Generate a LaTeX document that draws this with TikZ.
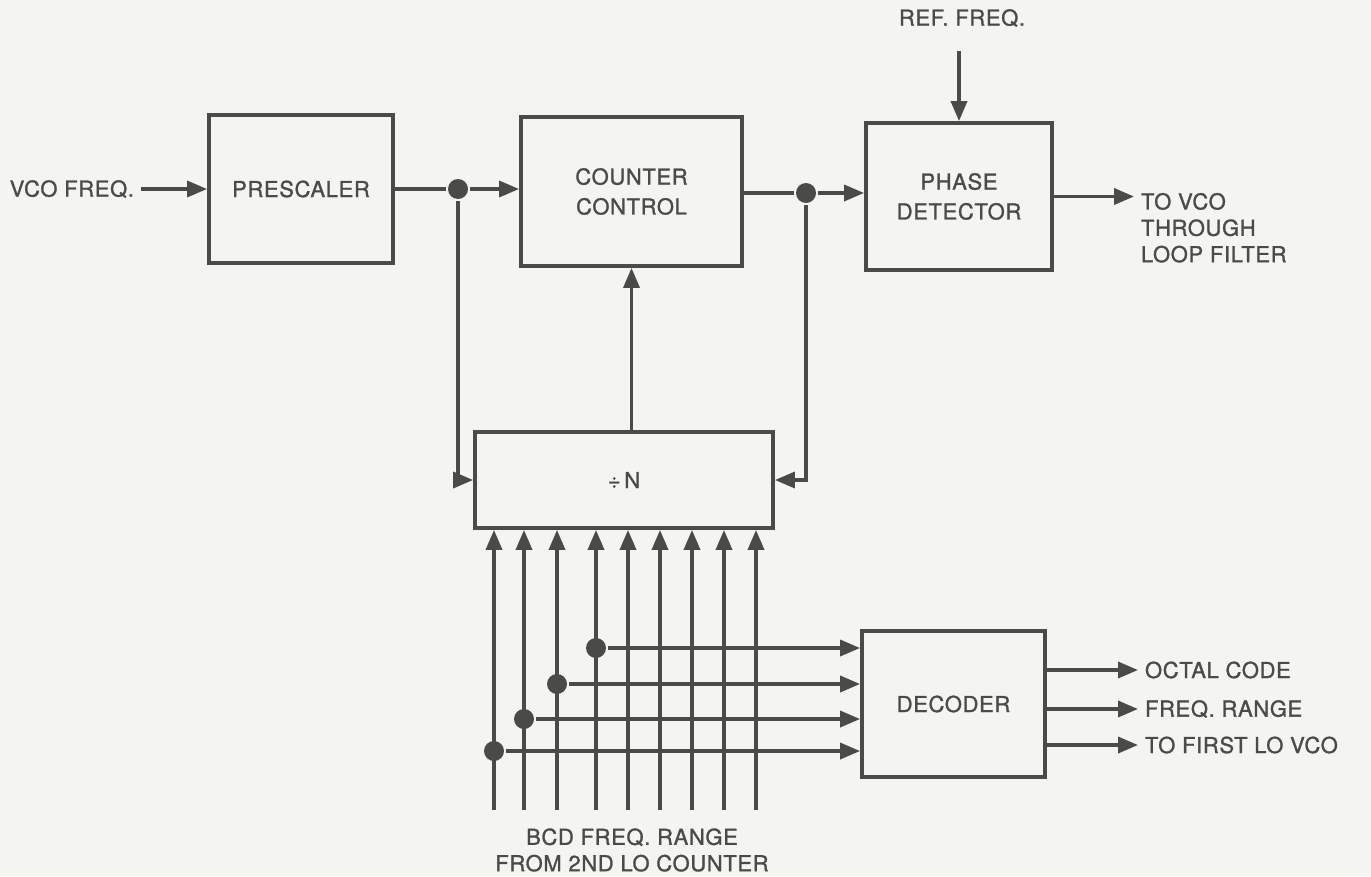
\documentclass[tikz,border=0pt]{standalone}
\usepackage{fontspec}
\setmainfont{TeX Gyre Heros}[LetterSpace=3,FakeBold=1.2]
\usepackage{xcolor}
\usetikzlibrary{positioning,arrows.meta}
\definecolor{ink}{HTML}{4A4A48}
\definecolor{paper}{HTML}{F4F4F1}

\begin{document}
\begin{tikzpicture}[
  x=0.02cm,y=-0.02cm,
  color=ink,
  font=\fontsize{12.5}{15}\selectfont,
  every node/.style={align=center},
  block/.style={rectangle,draw,line width=2.2pt,inner sep=2pt,font=\fontsize{12.5}{17}\selectfont},
  dot/.style={circle,fill,inner sep=0pt,minimum size=4mm},
  tag/.style={inner sep=3pt},
  link/.style={-{Triangle[length=4mm,width=3.2mm]}},
  line width=2pt
]
\fill[paper] (0,0) rectangle (1371,876);
\useasboundingbox (0,0) rectangle (1371,876);

\node[block,minimum width=3.68cm,minimum height=2.96cm] (pre) at (301,189) {PRESCALER};
\node[block,minimum width=4.42cm,minimum height=2.98cm] (cc) at (631.5,191.5) {COUNTER\\CONTROL};
\node[block,minimum width=3.72cm,minimum height=2.94cm] (pd) at (959,196.5) {PHASE\\DETECTOR};
\node[block,minimum width=5.96cm,minimum height=1.92cm] (divn) at (624,480) {÷\,N};
\node[block,minimum width=3.66cm,minimum height=2.92cm] (dec) at (953.5,704) {DECODER};

\node[tag,anchor=east] (vco) at (141,189) {VCO FREQ.};
\node[tag] (ref) at (962,18) {REF. FREQ.};
\node[tag,anchor=north west,align=left] (tovco) at (1134,186) {TO VCO\\THROUGH\\LOOP FILTER};
\node[tag] (bcd) at (632,850) {BCD FREQ. RANGE\\FROM 2ND LO COUNTER};

\node[dot] (j1) at (458,189) {};
\node[dot] (j2) at (806,193) {};

\draw[link] (vco.east) -- (pre.west);
\draw (pre.east) -- (j1);
\draw[link] (j1) -- (j1 -| cc.west);
\draw (cc.east |- j2) -- (j2);
\draw[link] (j2) -- (j2 -| pd.west);
\draw[link] (pd.north |- ref.south) ++(0,17) -- (pd.north);
\draw[link] (pd.east) -- (pd.east -| tovco.west);
\draw[link] (j1) |- (divn.west);
\draw[link] (j2) |- (divn.east);
\draw[link] (divn.north -| cc.south) -- (cc.south);

\foreach \x [count=\i] in {494,524,557,596,628,660,692,724,756} {
  \coordinate (b\i) at (\x,810);
  \draw[link] (b\i) -- (b\i |- divn.south);
}
\foreach \x/\y/\i in {494/751/1,524/719/2,557/684/3,596/648/4} {
  \node[dot] (t\i) at (\x,\y) {};
  \draw[link] (t\i) -- (t\i -| dec.west);
}

\foreach \y/\t/\n in {670/OCTAL CODE/oct,709/FREQ. RANGE/rng,745/TO FIRST LO VCO/flo} {
  \node[tag,anchor=west] (\n) at (1138,\y) {\t};
  \draw[link] (dec.east |- \n) -- (\n.west);
}
\end{tikzpicture}
\end{document}
